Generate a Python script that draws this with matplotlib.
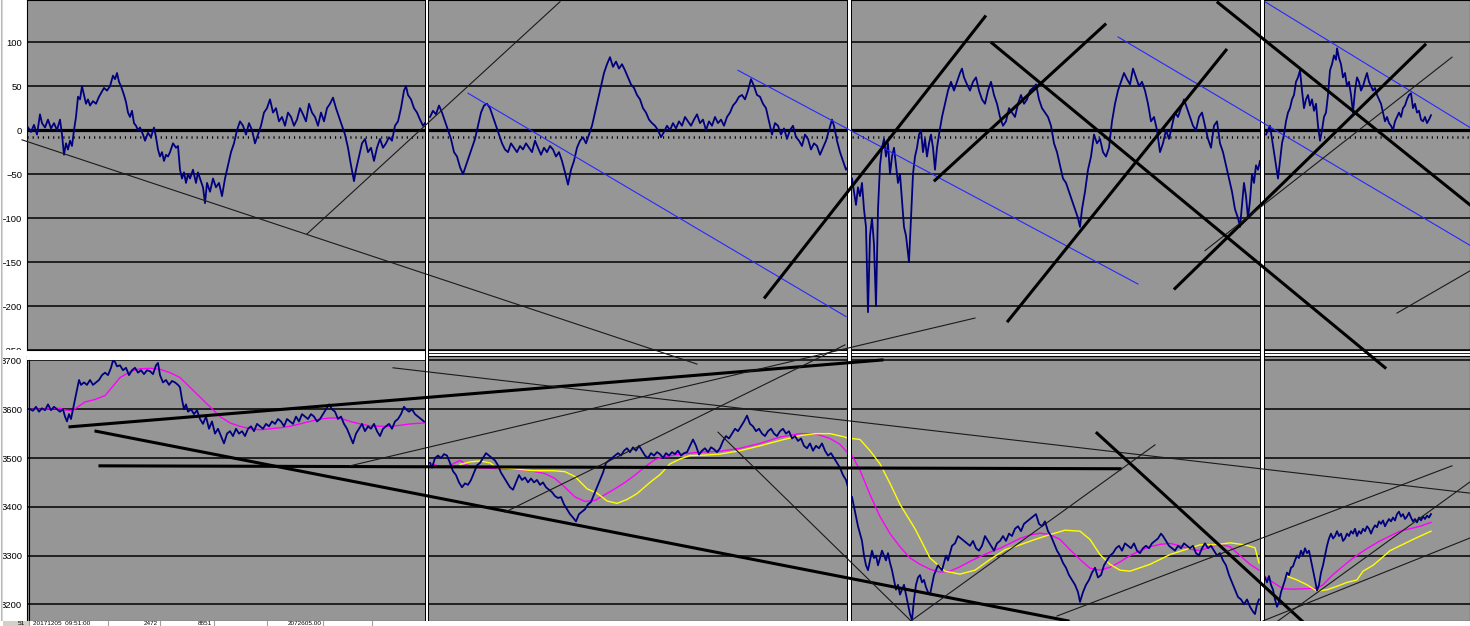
import numpy as np
import matplotlib.pyplot as plt
from matplotlib.patches import Rectangle

plt.rcParams['font.family'] = ['Liberation Sans', 'DejaVu Sans']

# ---- oscillator (top panel), four time windows ----
osc_1 = [(28,3),(31,-2),(34,6),(37,-5),(40,18),(42,8),(45,3),(48,12),(51,2),(54,8),(57,0),(60,12),(62,-5),(64,-28),(66,-15),(68,-22),(70,-12),(72,-18),(74,0),(76,15),(78,38),(80,35),(82,50),(84,40),(86,30),(88,35),(90,28),(93,33),(96,30),(99,38),(101,42),(104,48),(107,45),(110,50),(113,62),(115,58),(117,65),(119,55),(121,50),(124,40),(126,32),(128,20),(130,15),(132,22),(134,8),(136,5),(138,0),(140,3),(143,-5),(145,-12),(148,-3),(151,-8),(154,3),(156,-8),(158,-22),(160,-30),(162,-25),(164,-35),(166,-28),(168,-30),(170,-25),(173,-15),(176,-20),(178,-18),(180,-45),(182,-55),(184,-48),(186,-60),(188,-50),(190,-55),(193,-45),(196,-60),(198,-48),(200,-55),(203,-65),(205,-83),(207,-60),(210,-70),(213,-55),(216,-65),(219,-60),(222,-75),(225,-55),(228,-40),(231,-25),(234,-15),(237,0),(240,10),(243,5),(246,-5),(249,8),(252,0),(255,-15),(258,-5),(261,5),(264,20),(267,25),(270,35),(273,20),(276,25),(279,10),(282,15),(285,5),(288,20),(291,15),(294,5),(297,12),(300,25),(303,18),(306,10),(309,30),(312,20),(315,15),(318,5),(321,20),(324,10),(327,25),(330,30),(333,37),(336,25),(339,15),(342,5),(345,-5),(348,-20),(351,-40),(354,-58),(356,-45),(359,-30),(362,-15),(365,-10),(368,-25),(371,-20),(374,-35),(377,-20),(380,-10),(383,-20),(386,-15),(389,-8),(392,-12),(395,5),(398,10),(401,25),(404,45),(406,50),(408,40),(411,35),(414,25),(417,20),(420,12),(423,5),(425,8)]
osc_2 = [(430,15),(433,22),(436,18),(439,28),(442,20),(445,10),(448,0),(451,-10),(454,-25),(457,-30),(460,-42),(463,-50),(466,-40),(469,-30),(472,-20),(475,-10),(478,5),(481,20),(484,28),(487,30),(490,25),(493,15),(496,5),(499,-5),(502,-15),(505,-22),(508,-25),(511,-15),(514,-20),(517,-25),(520,-18),(523,-22),(526,-15),(529,-20),(532,-25),(535,-12),(538,-20),(541,-28),(544,-20),(547,-25),(550,-18),(553,-22),(556,-30),(559,-25),(562,-35),(565,-48),(568,-62),(571,-45),(574,-35),(577,-20),(580,-12),(583,-8),(586,-15),(589,-5),(592,5),(595,20),(598,35),(601,50),(604,65),(607,75),(610,83),(613,72),(616,78),(619,70),(622,75),(625,68),(628,60),(631,52),(634,48),(637,40),(640,35),(643,25),(646,20),(649,12),(652,8),(655,5),(658,0),(661,-8),(664,-2),(667,5),(670,0),(673,8),(676,2),(679,10),(682,5),(685,15),(688,10),(691,5),(694,12),(697,18),(700,8),(703,12),(706,0),(709,10),(712,5),(715,15),(718,8),(721,12),(724,5),(727,15),(730,20),(733,28),(736,32),(739,38),(742,40),(745,35),(748,45),(751,58),(754,50),(757,40),(760,38),(763,30),(766,25),(769,10),(772,-5),(775,8),(778,5),(781,-5),(784,2),(787,-10),(790,0),(793,5),(796,-8),(799,-12),(802,-18),(805,-5),(808,-10),(811,-22),(814,-15),(817,-18),(820,-28),(823,-20),(826,-12),(829,0),(832,12),(834,5),(837,-12),(840,-25),(843,-35),(846,-45),(848,-42)]
osc_3 = [(852,-55),(854,-70),(856,-85),(858,-65),(860,-75),(862,-60),(864,-90),(866,-110),(868,-207),(870,-120),(872,-100),(874,-130),(876,-200),(878,-90),(880,-40),(882,-20),(884,-10),(886,-30),(888,-15),(890,-50),(892,-30),(894,-20),(896,-40),(898,-60),(900,-50),(902,-80),(904,-110),(906,-120),(908,-140),(909,-150),(911,-100),(913,-50),(915,-30),(917,-20),(919,-5),(921,0),(923,-25),(925,-10),(927,-30),(929,-15),(931,-5),(933,-20),(935,-45),(937,-20),(939,-5),(942,15),(945,30),(948,45),(951,55),(954,45),(957,55),(960,65),(962,70),(964,60),(967,52),(970,45),(973,55),(976,60),(979,45),(982,35),(985,30),(988,45),(991,55),(994,40),(997,30),(1000,15),(1003,5),(1006,10),(1009,25),(1012,20),(1015,15),(1018,30),(1021,40),(1024,30),(1027,35),(1030,45),(1033,48),(1036,52),(1039,35),(1042,25),(1045,20),(1048,15),(1051,5),(1054,-15),(1057,-25),(1060,-40),(1063,-55),(1066,-60),(1069,-70),(1072,-80),(1075,-90),(1078,-100),(1080,-110),(1082,-90),(1085,-70),(1088,-45),(1091,-30),(1094,-5),(1097,-15),(1100,-10),(1103,-25),(1106,-30),(1109,-20),(1112,10),(1115,30),(1118,45),(1121,55),(1124,65),(1127,58),(1130,52),(1133,70),(1136,60),(1139,50),(1142,55),(1145,45),(1148,30),(1151,10),(1154,15),(1157,0),(1160,-25),(1163,-15),(1166,0),(1169,-10),(1172,5),(1175,20),(1178,15),(1181,25),(1184,35),(1187,25),(1190,15),(1193,5),(1196,0),(1199,15),(1202,20),(1205,5),(1208,-10),(1211,-20),(1214,5),(1217,10),(1220,-15),(1223,-25),(1226,-40),(1229,-55),(1232,-70),(1235,-90),(1238,-100),(1240,-110),(1242,-85),(1244,-60),(1246,-75),(1248,-100),(1250,-80),(1252,-50),(1254,-60),(1256,-40),(1258,-45),(1260,-35)]
osc_4 = [(1266,-5),(1268,0),(1270,5),(1272,-10),(1274,-25),(1276,-40),(1278,-55),(1280,-35),(1282,-15),(1284,-5),(1286,10),(1288,20),(1290,25),(1292,35),(1294,40),(1296,55),(1298,60),(1300,68),(1302,45),(1304,25),(1306,35),(1308,40),(1310,28),(1312,35),(1314,22),(1316,30),(1318,5),(1320,-12),(1322,0),(1324,15),(1326,20),(1328,40),(1330,68),(1332,75),(1334,85),(1336,80),(1337,93),(1339,82),(1341,75),(1343,60),(1345,65),(1347,50),(1349,55),(1351,40),(1353,20),(1355,45),(1357,60),(1359,55),(1361,45),(1363,50),(1365,58),(1367,65),(1369,55),(1371,50),(1373,45),(1375,48),(1377,40),(1379,35),(1381,30),(1383,20),(1385,10),(1387,15),(1389,8),(1391,5),(1393,0),(1395,10),(1397,15),(1399,20),(1401,15),(1403,25),(1405,28),(1407,35),(1409,40),(1411,42),(1413,25),(1415,30),(1417,20),(1419,22),(1421,12),(1423,10),(1425,15),(1427,8),(1429,12),(1431,17)]
osc_signal = -7.5

# ---- price (bottom panel) ----
px_1 = [(30,3600),(33,3597),(36,3605),(39,3595),(42,3602),(45,3598),(48,3610),(51,3598),(54,3605),(57,3600),(60,3595),(63,3600),(65,3585),(67,3575),(69,3590),(71,3580),(73,3600),(75,3620),(77,3640),(79,3660),(81,3650),(84,3655),(87,3650),(90,3660),(93,3650),(96,3655),(99,3660),(102,3670),(105,3675),(108,3670),(111,3685),(113,3700),(115,3697),(117,3688),(120,3690),(123,3680),(126,3685),(129,3670),(132,3680),(135,3685),(138,3675),(141,3680),(144,3672),(147,3680),(150,3678),(153,3672),(156,3690),(158,3695),(160,3670),(163,3655),(166,3660),(169,3650),(172,3658),(175,3655),(178,3650),(180,3645),(182,3620),(184,3600),(186,3610),(188,3595),(191,3600),(194,3590),(197,3598),(200,3580),(203,3570),(206,3585),(209,3560),(212,3575),(215,3550),(218,3560),(221,3545),(224,3530),(227,3550),(230,3555),(233,3545),(236,3560),(239,3550),(242,3555),(245,3545),(248,3560),(251,3565),(254,3555),(257,3570),(260,3565),(263,3560),(266,3570),(269,3565),(272,3575),(275,3570),(278,3580),(281,3575),(284,3565),(287,3580),(290,3575),(293,3570),(296,3585),(299,3575),(302,3590),(305,3585),(308,3580),(311,3590),(314,3585),(317,3575),(320,3580),(323,3590),(326,3600),(329,3610),(332,3600),(335,3595),(338,3580),(341,3585),(344,3570),(347,3560),(350,3545),(353,3530),(356,3550),(359,3560),(362,3570),(365,3555),(368,3565),(371,3560),(374,3570),(377,3555),(380,3545),(383,3560),(386,3565),(389,3570),(392,3560),(395,3575),(398,3580),(401,3590),(404,3605),(406,3600),(409,3595),(412,3600),(415,3590),(418,3585),(421,3580),(424,3575)]
px_2 = [(430,3490),(432,3480),(435,3500),(438,3505),(441,3500),(444,3508),(447,3505),(450,3490),(453,3473),(456,3465),(459,3450),(462,3440),(465,3448),(468,3445),(471,3455),(474,3470),(477,3485),(480,3490),(483,3500),(486,3510),(489,3505),(492,3500),(495,3495),(498,3485),(501,3470),(504,3460),(507,3450),(510,3440),(513,3435),(516,3450),(519,3465),(522,3455),(525,3460),(528,3450),(531,3458),(534,3450),(537,3455),(540,3445),(543,3450),(546,3440),(549,3435),(552,3430),(555,3422),(558,3418),(561,3420),(564,3405),(567,3395),(570,3385),(573,3378),(576,3370),(579,3385),(582,3390),(585,3395),(588,3405),(591,3410),(594,3425),(597,3440),(600,3455),(603,3470),(606,3490),(609,3495),(612,3500),(615,3505),(618,3510),(621,3505),(624,3515),(627,3520),(630,3512),(633,3522),(636,3515),(639,3525),(642,3515),(645,3505),(648,3500),(651,3510),(654,3505),(657,3512),(660,3508),(663,3500),(666,3510),(669,3505),(672,3512),(675,3508),(678,3515),(681,3505),(684,3510),(687,3512),(690,3525),(693,3538),(696,3525),(699,3507),(702,3515),(705,3520),(708,3512),(711,3522),(714,3518),(717,3512),(720,3520),(723,3535),(726,3545),(729,3540),(732,3550),(735,3560),(738,3555),(741,3565),(744,3575),(747,3587),(750,3570),(753,3565),(756,3555),(759,3560),(762,3550),(765,3545),(768,3555),(771,3560),(774,3550),(777,3545),(780,3555),(783,3560),(786,3550),(789,3555),(792,3540),(795,3545),(798,3535),(801,3540),(804,3525),(807,3520),(810,3530),(813,3515),(816,3525),(819,3520),(822,3530),(825,3515),(828,3505),(831,3510),(834,3500),(837,3490),(840,3480),(843,3465),(846,3455),(848,3440)]
px_3 = [(852,3420),(854,3400),(856,3380),(858,3360),(860,3345),(862,3330),(864,3300),(866,3280),(868,3270),(870,3290),(872,3310),(874,3295),(876,3300),(878,3280),(880,3295),(882,3310),(884,3300),(886,3290),(888,3305),(890,3285),(892,3270),(894,3250),(896,3230),(898,3240),(900,3220),(902,3230),(904,3240),(906,3220),(908,3200),(910,3180),(912,3168),(914,3210),(916,3240),(918,3255),(920,3260),(922,3245),(924,3250),(926,3235),(928,3225),(930,3220),(932,3240),(934,3260),(936,3270),(938,3280),(940,3275),(942,3270),(944,3285),(946,3300),(948,3290),(950,3305),(952,3320),(955,3325),(958,3340),(961,3335),(964,3330),(967,3325),(970,3320),(973,3330),(976,3315),(979,3310),(982,3320),(985,3340),(988,3330),(991,3320),(994,3310),(997,3325),(1000,3330),(1003,3340),(1006,3330),(1009,3345),(1012,3340),(1015,3355),(1018,3360),(1021,3350),(1024,3365),(1027,3370),(1030,3375),(1033,3380),(1036,3385),(1039,3365),(1042,3360),(1045,3370),(1048,3350),(1051,3340),(1054,3325),(1057,3310),(1060,3300),(1063,3285),(1066,3275),(1069,3260),(1072,3250),(1075,3240),(1078,3225),(1080,3205),(1083,3225),(1086,3240),(1089,3250),(1092,3265),(1095,3275),(1098,3255),(1101,3260),(1104,3280),(1107,3290),(1110,3300),(1113,3305),(1116,3315),(1119,3320),(1122,3310),(1125,3325),(1128,3320),(1131,3315),(1134,3325),(1137,3310),(1140,3305),(1143,3315),(1146,3320),(1149,3315),(1152,3325),(1155,3330),(1158,3335),(1161,3345),(1163,3340),(1166,3330),(1169,3320),(1172,3315),(1175,3310),(1178,3320),(1181,3315),(1184,3325),(1187,3320),(1190,3315),(1193,3320),(1196,3305),(1199,3300),(1202,3315),(1205,3325),(1208,3315),(1211,3320),(1214,3310),(1217,3300),(1220,3305),(1223,3290),(1226,3280),(1229,3260),(1232,3245),(1235,3230),(1238,3215),(1241,3210),(1244,3200),(1247,3210),(1250,3195),(1253,3185),(1255,3180),(1257,3200),(1259,3210)]
px_4 = [(1265,3255),(1267,3245),(1269,3258),(1271,3240),(1273,3230),(1275,3210),(1277,3195),(1279,3205),(1281,3225),(1283,3237),(1285,3250),(1287,3265),(1289,3260),(1291,3275),(1293,3278),(1295,3290),(1297,3300),(1299,3295),(1301,3310),(1303,3300),(1305,3315),(1307,3305),(1309,3310),(1311,3290),(1313,3270),(1315,3250),(1317,3228),(1319,3240),(1321,3265),(1323,3280),(1325,3300),(1327,3320),(1329,3335),(1331,3345),(1333,3335),(1335,3340),(1337,3350),(1339,3340),(1341,3345),(1343,3330),(1345,3335),(1347,3345),(1349,3340),(1351,3350),(1353,3345),(1355,3355),(1357,3340),(1359,3350),(1361,3345),(1363,3355),(1365,3350),(1367,3360),(1369,3355),(1371,3345),(1373,3355),(1375,3362),(1377,3358),(1379,3370),(1381,3365),(1383,3372),(1385,3360),(1387,3368),(1389,3375),(1391,3370),(1393,3378),(1395,3372),(1397,3385),(1399,3390),(1401,3380),(1403,3385),(1405,3375),(1407,3380),(1409,3388),(1411,3378),(1413,3370),(1415,3375),(1417,3368),(1419,3378),(1421,3372),(1423,3380),(1425,3375),(1427,3382),(1429,3378),(1431,3385)]

ma_fast = [
    [(30,3600),(40,3600),(50,3601),(60,3602),(66,3598),(72,3597),(78,3605),(85,3615),(95,3620),(105,3628),(112,3645),(120,3665),(130,3677),(140,3683),(150,3684),(160,3682),(170,3675),(180,3665),(190,3645),(200,3625),(210,3605),(220,3585),(230,3572),(240,3565),(250,3560),(260,3558),(270,3560),(280,3562),(290,3565),(300,3570),(310,3575),(320,3580),(330,3582),(340,3582),(350,3575),(360,3570),(370,3566),(380,3565),(390,3565),(400,3567),(410,3570),(425,3572)],
    [(430,3490),(440,3482),(450,3485),(460,3495),(470,3482),(480,3480),(490,3479),(500,3478),(515,3477),(530,3474),(545,3468),(555,3458),(565,3440),(575,3420),(585,3411),(595,3413),(605,3425),(615,3437),(625,3450),(635,3465),(645,3482),(655,3497),(665,3503),(680,3508),(700,3512),(720,3514),(740,3520),(760,3530),(780,3543),(800,3550),(815,3550),(830,3540),(840,3528),(848,3510)],
    [(852,3505),(860,3475),(870,3425),(880,3380),(890,3345),(900,3318),(910,3295),(920,3282),(930,3272),(940,3266),(950,3268),(960,3277),(970,3288),(980,3298),(990,3307),(1000,3315),(1010,3325),(1020,3335),(1030,3342),(1040,3346),(1050,3343),(1060,3333),(1070,3312),(1080,3292),(1090,3274),(1100,3270),(1110,3276),(1120,3287),(1130,3300),(1140,3310),(1150,3318),(1160,3323),(1170,3325),(1180,3320),(1190,3313),(1200,3310),(1210,3318),(1220,3323),(1230,3318),(1240,3300),(1250,3282),(1259,3270)],
    [(1265,3257),(1273,3245),(1283,3232),(1293,3231),(1305,3232),(1317,3233),(1323,3240),(1333,3261),(1340,3273),(1350,3290),(1360,3305),(1370,3318),(1380,3330),(1390,3340),(1400,3350),(1410,3355),(1420,3360),(1431,3368)],
]
ma_slow = [
    [(460,3487),(470,3492),(480,3494),(490,3490),(497,3480),(513,3478),(533,3474),(553,3474),(565,3472),(575,3462),(587,3437),(597,3428),(607,3412),(617,3407),(627,3415),(637,3427),(650,3450),(660,3466),(670,3488),(680,3498),(690,3505),(705,3506),(720,3508),(740,3515),(760,3525),(780,3536),(800,3546),(815,3550),(830,3550),(845,3543),(848,3540)],
    [(852,3540),(860,3538),(870,3515),(880,3488),(890,3448),(900,3405),(915,3355),(930,3295),(945,3268),(960,3262),(975,3270),(990,3292),(1005,3312),(1020,3322),(1035,3333),(1050,3343),(1065,3352),(1080,3350),(1090,3333),(1100,3302),(1110,3282),(1120,3270),(1130,3268),(1140,3275),(1150,3282),(1160,3292),(1170,3302),(1185,3312),(1200,3322),(1215,3322),(1230,3326),(1245,3322),(1255,3316),(1259,3285)],
    [(1288,3257),(1297,3250),(1307,3240),(1317,3227),(1327,3230),(1337,3237),(1347,3245),(1357,3250),(1363,3268),(1373,3280),(1380,3292),(1390,3310),(1400,3320),(1415,3335),(1431,3350)],
]

# hand-drawn trend lines: (x0, v0, x1, v1, style)
osc_lines = [
    (22,-11,697,-266,'thin'), (307,-118,560,146,'thin'),
    (468,42,846,-212,'blue'), (738,68,1138,-175,'blue'),
    (1118,106,1470,-131,'blue'), (1265,146,1470,3,'blue'),
    (765,-190,985,129,'thick'), (935,-57,1105,120,'thick'),
    (1008,-217,1226,91,'thick'), (1175,-180,1425,97,'thick'),
    (1205,-137,1452,83,'thin'), (992,99,1385,-270,'thick'),
    (1218,145,1470,-85,'thick'), (1397,-208,1470,-160,'thin'),
]
price_lines = [
    (70,3564,882,3701,'thick'), (96,3555,1068,3166,'thick'),
    (100,3484,1120,3478,'thick'), (393,3685,1470,3428,'thin'),
    (350,3484,975,3787,'thin'), (505,3389,845,3732,'thin'),
    (718,3553,911,3166,'thin'), (911,3166,1155,3527,'thin'),
    (1097,3551,1302,3166,'thick'), (1057,3176,1452,3484,'thin'),
    (1263,3166,1470,3336,'thin'), (1278,3166,1470,3451,'thin'),
]
styles = {'thick': dict(color='black', lw=2.2),
          'thin': dict(color='#1a1a1a', lw=0.8),
          'blue': dict(color='#2828ff', lw=0.8)}

osc_ticks = [100, 50, 0, -50, -100, -150, -200, -250]
price_ticks = [3700, 3600, 3500, 3400, 3300, 3200]
table_row = [('51', 25, 'right'), ('20171205  09:51:00', 33, 'left'), ('2472', 158, 'right'),
             ('8851', 212, 'right'), ('2072605.00', 322, 'right')]

W, H = 1470, 626
fig = plt.figure(figsize=(W / 100, H / 100), dpi=100)
fig.patch.set_facecolor('white')


def px_axes(x0, y0, x1, y1):
    return fig.add_axes([x0 / W, 1 - y1 / H, (x1 - x0) / W, (y1 - y0) / H])


panel_gray = '#969696'
navy = '#00007f'

ax1 = px_axes(27, 0, W, 350)
ax1.set_xlim(27, W)
ax1.set_ylim(-250, 148)
ax2 = px_axes(27, 356, W, 621)
ax2.set_xlim(27, W)
ax2.set_ylim(3165.8, 3709.2)

for ax, ticks in ((ax1, osc_ticks), (ax2, price_ticks)):
    ax.set_facecolor(panel_gray)
    for t in ticks:
        ax.axhline(t, color='black', lw=1.1, zorder=1)
    ax.set_yticks(ticks)
    ax.set_xticks([])
    ax.tick_params(axis='y', length=0, pad=3.5, labelsize=6.8)
    for s in ax.spines.values():
        s.set_color('black')
        s.set_linewidth(0.8)

ax1.axhline(0, color='black', lw=2.3, zorder=1)
ax1.axhline(osc_signal, color='black', lw=1.8, linestyle=(0, (0.45, 1.6)), zorder=1)

for seg in (osc_1, osc_2, osc_3, osc_4):
    x, v = zip(*seg)
    ax1.plot(x, v, color=navy, lw=1.3, zorder=3)

for seg in ma_fast:
    x, v = zip(*seg)
    ax2.plot(x, v, color='#ff00ff', lw=1.0, zorder=3)
for seg in ma_slow:
    x, v = zip(*seg)
    ax2.plot(x, v, color='#ffff00', lw=1.0, zorder=3)
for seg in (px_1, px_2, px_3, px_4):
    x, v = zip(*seg)
    ax2.plot(x, v, color=navy, lw=1.3, zorder=4)

# overlay in pixel units: window separators, drawn lines, table row
ov = fig.add_axes([0, 0, 1, 1])
ov.set_autoscale_on(False)
ov.set_xlim(0, W)
ov.set_ylim(H, 0)
ov.axis('off')
ov.patch.set_alpha(0)
ov.set_zorder(10)

ov.add_patch(Rectangle((0, 350), W, 6, facecolor='white', edgecolor='none', zorder=1))
ov.add_patch(Rectangle((27, 350), 400, 9.5, facecolor='white', edgecolor='none', zorder=1))
ov.plot([27, W], [350, 350], color='black', lw=0.8, zorder=2)
ov.plot([427, W], [353, 353], color='black', lw=0.6, zorder=2)
ov.plot([427, W], [356.3, 356.3], color='black', lw=0.8, zorder=2)
ov.plot([29, 29], [359.5, 621], color='black', lw=0.8, zorder=2)
for sx in (427, 849.5, 1262.5):
    ov.add_patch(Rectangle((sx - 2.3, 0), 4.6, 621, facecolor='black', edgecolor='none', zorder=2))
    ov.add_patch(Rectangle((sx - 1.1, 0), 2.2, 621, facecolor='white', edgecolor='none', zorder=2))
ov.plot([0.5, 0.5], [0, H], color='#b8b8b8', lw=0.8, zorder=2)
ov.plot([2.5, 2.5], [0, H], color='#d8d8d8', lw=0.8, zorder=2)

for x0, v0, x1, v1, st in osc_lines:
    ov.plot([x0, x1], [v0, v1], transform=ax1.transData, clip_on=False, zorder=5, **styles[st])
for x0, v0, x1, v1, st in price_lines:
    ov.plot([x0, x1], [v0, v1], transform=ax2.transData, clip_on=False, zorder=5, **styles[st])

ov.add_patch(Rectangle((0, 621), W, 6, facecolor='white', edgecolor='none', zorder=8))
ov.add_patch(Rectangle((3, 621), 26, 6, facecolor='#d4d0c8', edgecolor='none', zorder=8))
for cx in (29, 108, 160, 214, 267, 323, 372):
    ov.plot([cx, cx], [621, H], color='#a0a0a0', lw=0.8, zorder=9)
for txt, tx, ha in table_row:
    ov.text(tx, 625.8, txt, ha=ha, va='bottom', fontsize=4.6, zorder=10)

fig.savefig('out.png', dpi=100, facecolor='white')
